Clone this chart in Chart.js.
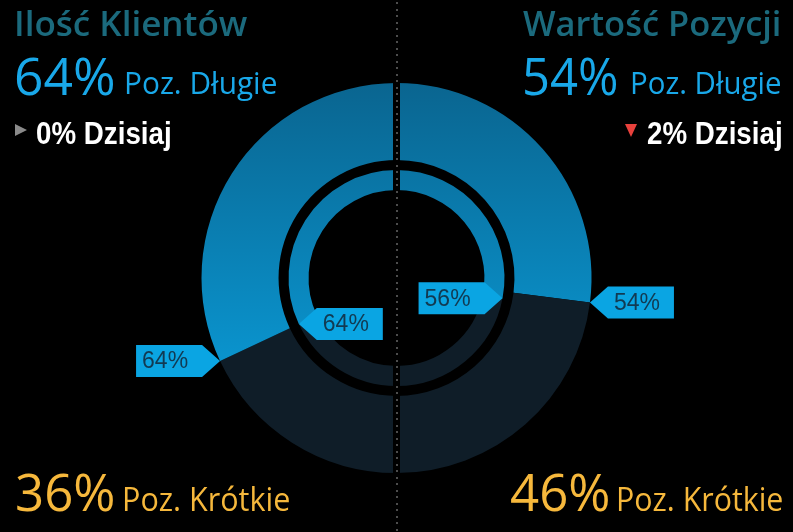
<!DOCTYPE html>
<html>
<head>
<meta charset="utf-8">
<script src="https://cdn.jsdelivr.net/npm/chart.js@4"></script>
<style>
  body { margin: 0; background: #000; }
  #wrap { position: relative; width: 793px; height: 532px; overflow: hidden; background: #000; }
  #wrap canvas { position: absolute; left: 0; top: 0; }
  .t { position: absolute; white-space: nowrap; display: inline-block; line-height: normal; }
  .tri { position: absolute; width: 0; height: 0; }
</style>
</head>
<body>
<div id="wrap">
  <canvas id="rings" width="793" height="532"></canvas>
</div>
<script>
// left panel = clients, right panel = position value
const panelTitles = ['Ilość Klientów', 'Wartość Pozycji'];
const longPct = [64, 54];      // outer ring, blue part
const shortPct = [36, 46];     // outer ring, dark part
const innerLongPct = [64, 56]; // inner ring, blue part
const innerShortPct = [36, 44];
const todayChange = [0, -2];
const longLabel = 'Poz. Długie';
const shortLabel = 'Poz. Krótkie';
const todayLabel = 'Dzisiaj';

// clockwise from top: right long, right short, left short, left long
const segmentNames = ['Długie (wartość)', 'Krótkie (wartość)', 'Krótkie (klienci)', 'Długie (klienci)'];
const outerValues = [longPct[1], shortPct[1], shortPct[0], longPct[0]];
const innerValues = [innerLongPct[1], innerShortPct[1], innerShortPct[0], innerLongPct[0]];
const isLong = [true, false, false, true];

function ringColor(ctx) {
    if (!isLong[ctx.dataIndex]) return '#0f1d28';
    const area = ctx.chart.chartArea;
    if (!area) return '#0a7ba9';
    const g = ctx.chart.ctx.createLinearGradient(0, area.top, 0, area.top + area.height * 0.72);
    g.addColorStop(0, '#0a6590');
    g.addColorStop(1, '#0a94ce');
    return g;
}

function drawTag(c, arc, angle, value, dir) {
    const tx = arc.x + Math.cos(angle) * arc.outerRadius;
    const ty = arc.y + Math.sin(angle) * arc.outerRadius;
    const base = tx + dir * 18;
    const far = base + dir * 66;
    const h = 16;
    c.save();
    c.fillStyle = '#0aa5e3';
    c.beginPath();
    c.moveTo(tx, ty);
    c.lineTo(base, ty - h);
    c.lineTo(far, ty - h);
    c.lineTo(far, ty + h);
    c.lineTo(base, ty + h);
    c.closePath();
    c.fill();
    c.fillStyle = '#123a52';
    c.font = '23px "Liberation Sans", Arial, sans-serif';
    c.textBaseline = 'middle';
    c.textAlign = 'left';
    c.fillText(value + '%', Math.min(base, far) + 6, ty + 1);
    c.restore();
}

const ringExtras = {
    id: 'ringExtras',
    afterDatasetsDraw(chart) {
        const c = chart.ctx;
        const area = chart.chartArea;
        const cx = (area.left + area.right) / 2;

        // dotted separator
        c.save();
        c.fillStyle = '#000';
        c.fillRect(cx - 3.5, 0, 7, chart.height);
        c.fillStyle = '#4d4d4d';
        for (let y = 2; y < chart.height; y += 6.5) {
            c.fillRect(Math.round(cx) - 1, Math.round(y), 2, 2);
        }
        c.restore();

        // value tags: outer ring tags sit outside, inner ring tags inside
        [[0, 1], [2, -1]].forEach(([di, dir]) => {
            const meta = chart.getDatasetMeta(di);
            const data = chart.data.datasets[di].data;
            const right = meta.data[0];
            const left = meta.data[3];
            drawTag(c, right, right.endAngle, data[0], dir);
            drawTag(c, left, left.startAngle, data[3], -dir);
        });
    }
};

new Chart(document.getElementById('rings'), {
    type: 'doughnut',
    data: {
        labels: segmentNames,
        datasets: [
            { data: outerValues, backgroundColor: ringColor, weight: 77 },
            { data: [200], backgroundColor: 'rgba(0,0,0,0)', weight: 10 },
            { data: innerValues, backgroundColor: ringColor, weight: 20 }
        ]
    },
    options: {
        responsive: false,
        animation: false,
        cutout: '45.1%',
        rotation: 0,
        borderWidth: 0,
        hoverOffset: 0,
        events: [],
        layout: { padding: { top: 83, bottom: 59, left: 0, right: 0 } },
        plugins: { legend: { display: false }, tooltip: { enabled: false } }
    },
    plugins: [ringExtras]
});

// ---- header / footer text
const wrap = document.getElementById('wrap');
const ubu = '"Open Sans", "Noto Sans", sans-serif';
const ari = '"Liberation Sans", Arial, sans-serif';
const texts = [];

function addText(str, o) {
    const el = document.createElement('div');
    el.className = 't';
    el.textContent = str;
    el.style.fontFamily = o.font;
    el.style.fontSize = o.size + 'px';
    el.style.fontWeight = o.weight || 'normal';
    el.style.color = o.color;
    if (o.right !== undefined) {
        el.style.right = (793 - o.right) + 'px';
        el.style.transformOrigin = 'right center';
    } else {
        el.style.left = o.left + 'px';
        el.style.transformOrigin = 'left center';
    }
    wrap.appendChild(el);
    texts.push([el, o]);
}

function fitTexts() {
    texts.forEach(([el, o]) => {
        const probe = document.createElement('span');
        probe.style.display = 'inline-block';
        probe.style.width = '0';
        probe.style.height = '0';
        probe.style.verticalAlign = 'baseline';
        el.appendChild(probe);
        const off = probe.offsetTop;
        el.removeChild(probe);
        el.style.top = (o.base - off) + 'px';
        el.style.transform = 'scaleX(' + (o.w / el.offsetWidth) + ')';
    });
}

const teal = '#1b6a7d', blue = '#19a8e9', yellow = '#f6b83c';

// left panel
addText(panelTitles[0], { font: ubu, size: 35, weight: 600, color: teal, left: 14, base: 36, w: 233 });
addText(longPct[0] + '%', { font: ubu, size: 52, color: blue, left: 14, base: 95, w: 101 });
addText(longLabel, { font: ubu, size: 31, color: blue, left: 124, base: 94, w: 153 });
addText(Math.abs(todayChange[0]) + '% ' + todayLabel, { font: ari, size: 31, weight: 'bold', color: '#fff', left: 36, base: 144, w: 136 });
addText(shortPct[0] + '%', { font: ubu, size: 52, color: yellow, left: 15, base: 511, w: 100 });
addText(shortLabel, { font: ubu, size: 32, color: yellow, left: 122, base: 511, w: 168 });

// right panel
addText(panelTitles[1], { font: ubu, size: 35, weight: 600, color: teal, right: 781, base: 36, w: 258 });
addText(longPct[1] + '%', { font: ubu, size: 52, color: blue, left: 522, base: 95, w: 96 });
addText(longLabel, { font: ubu, size: 31, color: blue, right: 781, base: 94, w: 151 });
addText(Math.abs(todayChange[1]) + '% ' + todayLabel, { font: ari, size: 31, weight: 'bold', color: '#fff', right: 783, base: 144, w: 136 });
addText(shortPct[1] + '%', { font: ubu, size: 52, color: yellow, left: 510, base: 511, w: 100 });
addText(shortLabel, { font: ubu, size: 32, color: yellow, right: 783, base: 511, w: 167 });

// change markers
function marker(change, x, y) {
    const el = document.createElement('div');
    el.className = 'tri';
    el.style.left = x + 'px';
    el.style.top = y + 'px';
    if (change < 0) {
        el.style.borderTop = '13px solid #e8413c';
        el.style.borderLeft = '6px solid transparent';
        el.style.borderRight = '6px solid transparent';
    } else if (change > 0) {
        el.style.borderBottom = '13px solid #3cbf4a';
        el.style.borderLeft = '6px solid transparent';
        el.style.borderRight = '6px solid transparent';
    } else {
        el.style.borderLeft = '12px solid #8a8a8a';
        el.style.borderTop = '6px solid transparent';
        el.style.borderBottom = '6px solid transparent';
    }
    wrap.appendChild(el);
}
marker(todayChange[0], 15, 124);
marker(todayChange[1], 625, 124);

if (document.fonts && document.fonts.ready) {
    fitTexts();
    document.fonts.ready.then(fitTexts);
} else {
    fitTexts();
}
</script>
</body>
</html>
